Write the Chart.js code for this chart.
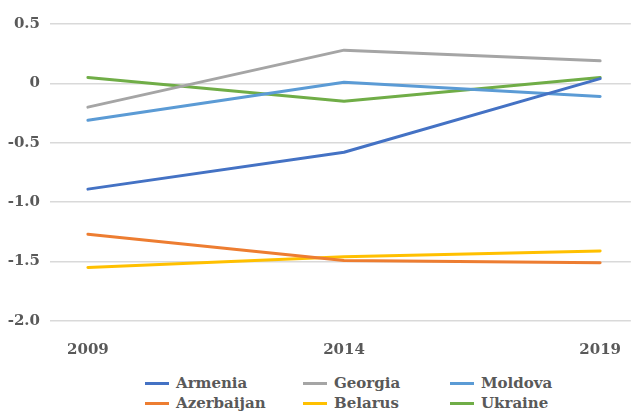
<!DOCTYPE html>
<html>
<head>
<meta charset="utf-8">
<script src="https://cdn.jsdelivr.net/npm/chart.js@4/dist/chart.umd.min.js"></script>
<style>
  body { margin: 0; background: #fff; }
  #wrap { position: relative; width: 633px; height: 412px; }
  #legend {
    position: absolute; left: 145px; top: 373px;
    display: grid; grid-template-columns: 158px 147px 150px;
    row-gap: 0px;
    font: bold 15px 'DejaVu Serif', serif; color: #595959;
  }
  .item { display: flex; align-items: center; height: 20px; white-space: nowrap; }
  .swatch { width: 24px; height: 3px; margin-right: 7px; }
</style>
</head>
<body>
<div id="wrap">
  <canvas id="chart" width="633" height="365"></canvas>
  <div id="legend"></div>
</div>
<script>
// years on the x axis
const years = [2009, 2014, 2019];

// series
const armenia    = [-0.89, -0.58, 0.04];
const georgia    = [-0.20, 0.28, 0.19];
const moldova    = [-0.31, 0.01, -0.11];
const azerbaijan = [-1.27, -1.49, -1.51];
const belarus    = [-1.55, -1.46, -1.41];
const ukraine    = [0.05, -0.15, 0.05];

const yTicks = [-2.0, -1.5, -1.0, -0.5, 0, 0.5];

const textColor = '#595959';
const font = { family: 'DejaVu Serif', size: 15, weight: 'bold' };

function series(label, values, color) {
    return {
        label: label,
        data: values.map((v, i) => ({ x: years[i], y: v })),
        borderColor: color,
        backgroundColor: color,
        borderWidth: 3,
        pointRadius: 0,
        tension: 0,
        borderJoinStyle: 'round',
        borderCapStyle: 'round'
    };
}

const ctx = document.getElementById('chart').getContext('2d');

const chart = new Chart(ctx, {
    type: 'line',
    data: {
        datasets: [
            series('Armenia', armenia, '#4472C4'),
            series('Georgia', georgia, '#A5A5A5'),
            series('Moldova', moldova, '#5B9BD5'),
            series('Azerbaijan', azerbaijan, '#ED7D31'),
            series('Belarus', belarus, '#FFC000'),
            series('Ukraine', ukraine, '#70AD47')
        ]
    },
    options: {
        responsive: false,
        animation: false,
        layout: { padding: { top: 24, right: 0, left: 0, bottom: 0 } },
        plugins: {
            legend: { display: false },
            tooltip: { enabled: false }
        },
        scales: {
            x: {
                type: 'linear',
                min: 2008.26,
                max: 2019.6,
                grid: { display: false },
                border: { display: false },
                afterBuildTicks: scale => { scale.ticks = years.map(v => ({ value: v })); },
                afterFit: scale => { scale.height = 44; },
                ticks: {
                    color: textColor,
                    font: font,
                    padding: 12,
                    maxRotation: 0,
                    callback: v => String(v)
                }
            },
            y: {
                min: -2,
                max: 0.5,
                afterBuildTicks: scale => { scale.ticks = yTicks.map(v => ({ value: v })); },
                afterFit: scale => { scale.width = 50; },
                grid: { color: '#D9D9D9', lineWidth: 1.5, drawTicks: false },
                border: { display: false },
                ticks: {
                    color: textColor,
                    font: font,
                    padding: 10,
                    callback: v => v === 0 ? '0' : v.toFixed(1)
                }
            }
        }
    }
});

// legend in three fixed columns like the original
const legend = document.getElementById('legend');
chart.data.datasets.forEach(ds => {
    const item = document.createElement('div');
    item.className = 'item';
    const sw = document.createElement('span');
    sw.className = 'swatch';
    sw.style.background = ds.borderColor;
    item.appendChild(sw);
    item.appendChild(document.createTextNode(ds.label));
    legend.appendChild(item);
});
</script>
</body>
</html>
